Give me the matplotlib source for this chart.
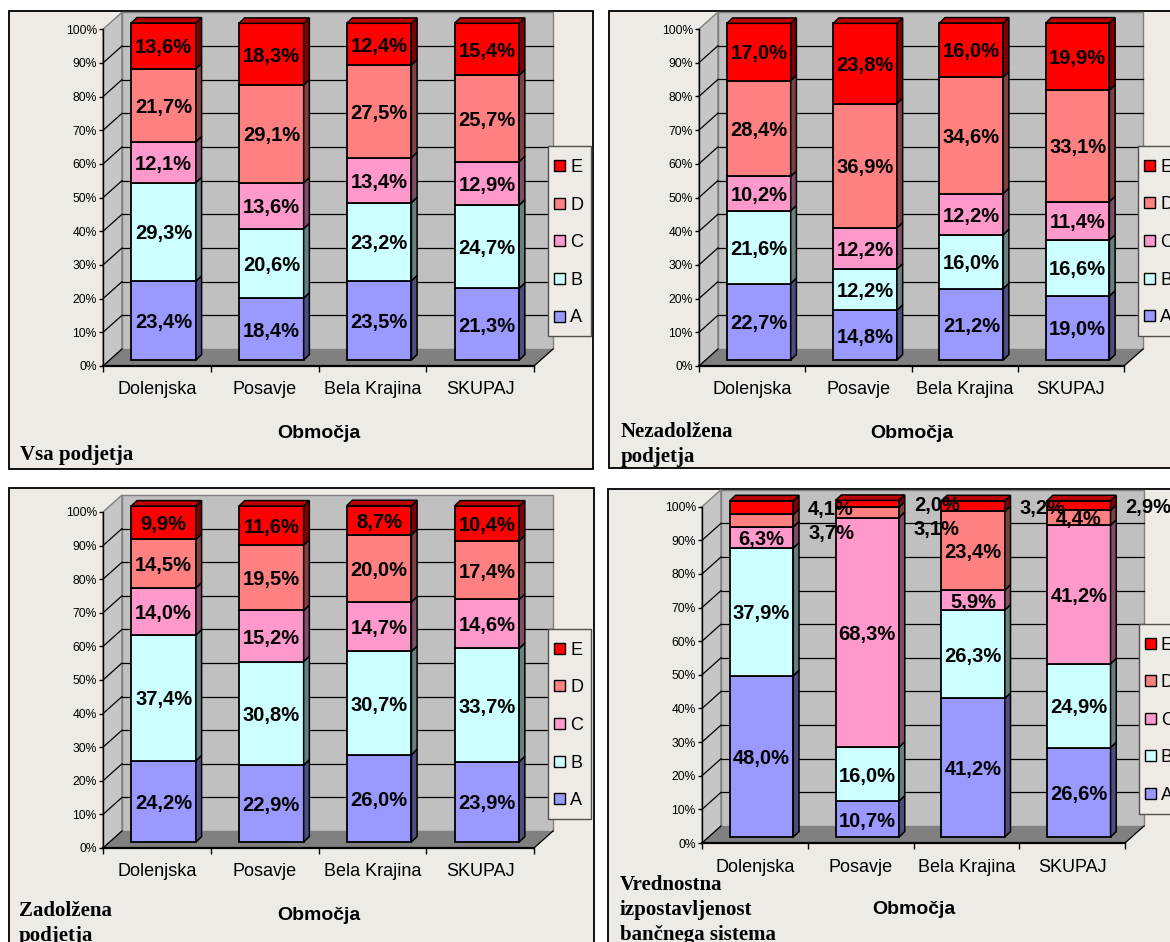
import matplotlib
matplotlib.use("Agg")
import matplotlib.pyplot as plt
from matplotlib.patches import Rectangle, Polygon
from matplotlib.transforms import ScaledTranslation
from matplotlib.colors import to_rgb
import numpy as np

plt.rcParams['font.family'] = ['Liberation Sans', 'DejaVu Sans']

# ---------------------------------------------------------------- data
regions = ['Dolenjska', 'Posavje', 'Bela Krajina', 'SKUPAJ']
classes = ['A', 'B', 'C', 'D', 'E']
y_ticks = list(range(0, 101, 10))
y_tick_labels = [f'{v}%' for v in y_ticks]
x_label = 'Območja'

# Vsa podjetja
vsa_A = [23.4, 18.4, 23.5, 21.3]
vsa_B = [29.3, 20.6, 23.2, 24.7]
vsa_C = [12.1, 13.6, 13.4, 12.9]
vsa_D = [21.7, 29.1, 27.5, 25.7]
vsa_E = [13.6, 18.3, 12.4, 15.4]

# Nezadolžena podjetja
nez_A = [22.7, 14.8, 21.2, 19.0]
nez_B = [21.6, 12.2, 16.0, 16.6]
nez_C = [10.2, 12.2, 12.2, 11.4]
nez_D = [28.4, 36.9, 34.6, 33.1]
nez_E = [17.0, 23.8, 16.0, 19.9]

# Zadolžena podjetja
zad_A = [24.2, 22.9, 26.0, 23.9]
zad_B = [37.4, 30.8, 30.7, 33.7]
zad_C = [14.0, 15.2, 14.7, 14.6]
zad_D = [14.5, 19.5, 20.0, 17.4]
zad_E = [9.9, 11.6, 8.7, 10.4]

# Vrednostna izpostavljenost bančnega sistema
izp_A = [48.0, 10.7, 41.2, 26.6]
izp_B = [37.9, 16.0, 26.3, 24.9]
izp_C = [6.3, 68.3, 5.9, 41.2]
izp_D = [3.7, 3.1, 23.4, 4.4]
izp_E = [4.1, 2.0, 3.2, 2.9]

# ---------------------------------------------------------------- style
W, H, DPI = 1170, 942, 100
PANEL_BG = '#EEEBE6'
BACK_WALL = '#C0C0C0'
LEFT_WALL = '#C6C6C6'
FLOOR = '#808080'
WALL_EDGE = '#808080'
FACE = {'A': '#9999FF', 'B': '#CCFFFF', 'C': '#FF99CC', 'D': '#FF8080', 'E': '#FF0000'}


def shade(c, f):
    return tuple(np.array(to_rgb(c)) * f)


SIDE = {k: shade(v, 0.5) for k, v in FACE.items()}
TOP = {k: shade(v, 0.75) for k, v in FACE.items()}

WALL_PX = (19.0, 17.0)      # depth of the back wall (pixels, right / up)
SHIFT_PX = (6.7, 6.0)       # front face of the bars behind the front plane
DEPTH_PX = (5.7, 5.4)       # thickness of the bars
BAR_W = 0.6
OUTSIDE_BELOW = 4.2         # smaller segments get their label beside the bar

panels = [
    dict(series=(vsa_A, vsa_B, vsa_C, vsa_D, vsa_E),
         box=(9, 11, 593, 469), axes=(103, 534, 29.3, 366),
         title=['Vsa podjetja'], title_xy=(20, 460)),
    dict(series=(nez_A, nez_B, nez_C, nez_D, nez_E),
         box=(609, 11, 1185, 468), axes=(699, 1124, 29.0, 366),
         title=['Nezadolžena', 'podjetja'], title_xy=(621, 437)),
    dict(series=(zad_A, zad_B, zad_C, zad_D, zad_E),
         box=(8.5, 488, 594, 960), axes=(103, 534, 512, 848),
         title=['Zadolžena', 'podjetja'], title_xy=(19, 916)),
    dict(series=(izp_A, izp_B, izp_C, izp_D, izp_E),
         box=(608, 489, 1185, 960), axes=(702, 1125, 506.7, 843),
         title=['Vrednostna', 'izpostavljenost', 'bančnega sistema'], title_xy=(620, 890)),
]

fig = plt.figure(figsize=(W / DPI, H / DPI), dpi=DPI)
fig.patch.set_facecolor('white')


def fx(px):
    return px / W


def fy(py):
    return 1 - py / H


def fmt(v):
    return f'{v:.1f}%'.replace('.', ',')


def draw_panel(spec):
    bx0, by0, bx1, by1 = spec['box']
    fig.add_artist(Rectangle((fx(bx0), fy(by1)), (bx1 - bx0) / W, (by1 - by0) / H,
                             transform=fig.transFigure, facecolor=PANEL_BG,
                             edgecolor='black', lw=1.3, zorder=-1))

    x0, x1, ytop, ybot = spec['axes']
    n = len(regions)
    ax = fig.add_axes([fx(x0), fy(ybot), (x1 - x0) / W, (ybot - ytop) / H])
    ax.set_xlim(0, n)
    ax.set_ylim(0, 100)
    ax.patch.set_visible(False)

    ux = n / (x1 - x0)
    uy = 100 / (ybot - ytop)
    wx, wy = WALL_PX[0] * ux, WALL_PX[1] * uy
    dx, dy = DEPTH_PX[0] * ux, DEPTH_PX[1] * uy
    shift = ax.transData + ScaledTranslation(SHIFT_PX[0] / DPI, SHIFT_PX[1] / DPI,
                                             fig.dpi_scale_trans)

    # walls and floor
    ax.add_patch(Polygon([(0, 0), (0, 100), (wx, 100 + wy), (wx, wy)], closed=True,
                         facecolor=LEFT_WALL, edgecolor=WALL_EDGE, lw=1,
                         clip_on=False, zorder=0.5))
    ax.add_patch(Rectangle((wx, wy), n, 100, facecolor=BACK_WALL,
                           edgecolor=WALL_EDGE, lw=1, clip_on=False, zorder=0.5))
    ax.add_patch(Polygon([(0, 0), (n, 0), (n + wx, wy), (wx, wy)], closed=True,
                         facecolor=FLOOR, edgecolor='none', clip_on=False, zorder=0.6))
    for v in y_ticks[:-1]:
        if v > 0:
            ax.plot([wx, n + wx], [v + wy, v + wy], color='black', lw=0.9,
                    clip_on=False, zorder=0.8)
        ax.plot([0, wx], [v, v + wy], color='black', lw=0.9, clip_on=False, zorder=0.8)
    ax.plot([n, n + wx], [0, wy], color='black', lw=0.9, clip_on=False, zorder=0.8)

    # stacked bars
    centers = np.arange(n) + 0.5
    bottoms = np.zeros(n)
    seg_info = []
    for cls, vals in zip(classes, spec['series']):
        vals = np.asarray(vals, dtype=float)
        bars = ax.bar(centers, vals, bottom=bottoms, width=BAR_W, color=FACE[cls],
                      edgecolor='black', lw=1.3, zorder=2)
        for b in bars:
            b.set_transform(shift)
            b.set_clip_on(False)
        for i in range(n):
            seg_info.append((i, cls, bottoms[i], vals[i]))
        bottoms = bottoms + vals

    for i, cls, b, v in seg_info:
        xr = centers[i] + BAR_W / 2
        ax.add_patch(Polygon([(xr, b), (xr + dx, b + dy), (xr + dx, b + v + dy), (xr, b + v)],
                             closed=True, facecolor=SIDE[cls], edgecolor='black', lw=1.1,
                             transform=shift, clip_on=False, zorder=2))
    for i in range(n):
        xl, xr, t = centers[i] - BAR_W / 2, centers[i] + BAR_W / 2, bottoms[i]
        ax.add_patch(Polygon([(xl, t), (xl + dx, t + dy), (xr + dx, t + dy), (xr, t)],
                             closed=True, facecolor=TOP[classes[-1]], edgecolor='black',
                             lw=1.1, transform=shift, clip_on=False, zorder=2))

    # value labels
    label_kw = dict(fontsize=14.5, fontweight='bold', color='black', zorder=6)
    prev_y = {}
    for i, cls, b, v in reversed(seg_info):
        mid = b + v / 2
        if v >= OUTSIDE_BELOW:
            ax.text(centers[i], mid, fmt(v), ha='center', va='center_baseline',
                    transform=shift, clip_on=False, **label_kw)
        else:
            y = mid if i not in prev_y else min(mid, prev_y[i] - 7.2)
            prev_y[i] = y
            ax.annotate(fmt(v), xy=(centers[i] + BAR_W / 2 + dx, y), xycoords=shift,
                        xytext=(6.5, 0), textcoords='offset points',
                        ha='left', va='center_baseline', annotation_clip=False, **label_kw)

    # axes
    for side in ('top', 'right'):
        ax.spines[side].set_visible(False)
    ax.spines['left'].set_color('black')
    ax.spines['left'].set_linewidth(1.0)
    ax.spines['bottom'].set_color('black')
    ax.spines['bottom'].set_linewidth(1.6)
    ax.set_yticks(y_ticks, labels=y_tick_labels)
    ax.tick_params(axis='y', direction='out', length=3, width=1, pad=1.5,
                   labelsize=8.7, colors='black')
    ax.set_xticks(np.arange(n + 1))
    ax.set_xticklabels([])
    ax.tick_params(axis='x', direction='out', length=4, width=1)
    for i, name in enumerate(regions):
        ax.annotate(name, xy=(centers[i], 0), xytext=(0, -24 * 72 / DPI),
                    textcoords='offset points', ha='center', va='center',
                    fontsize=13, annotation_clip=False)
    fig.text(fx((x0 + x1) / 2), fy(ybot + 67), x_label, ha='center', va='center',
             fontsize=14, fontweight='bold')

    # legend
    lx0, ly0 = x1 + 14, ytop + 117
    lw_, lh_ = 43, 190
    fig.add_artist(Rectangle((fx(lx0), fy(ly0 + lh_)), lw_ / W, lh_ / H,
                             transform=fig.transFigure, facecolor=PANEL_BG,
                             edgecolor='#505050', lw=1, zorder=5))
    for k, cls in enumerate(reversed(classes)):
        yc = ly0 + 19.3 + k * 37.6
        fig.add_artist(Rectangle((fx(lx0 + 6), fy(yc + 5.5)), 11 / W, 11 / H,
                                 transform=fig.transFigure, facecolor=FACE[cls],
                                 edgecolor='black', lw=1, zorder=6))
        fig.text(fx(lx0 + 22), fy(yc), cls, ha='left', va='center_baseline',
                 fontsize=13, zorder=6)

    # panel caption
    tx, ty = spec['title_xy']
    for k, line in enumerate(spec['title']):
        fig.text(fx(tx), fy(ty + 25 * k), line, ha='left', va='baseline',
                 family=['Liberation Serif', 'DejaVu Serif'], fontweight='bold',
                 fontsize=15)


for spec in panels:
    draw_panel(spec)

fig.savefig('out.png', dpi=DPI, facecolor='white')
